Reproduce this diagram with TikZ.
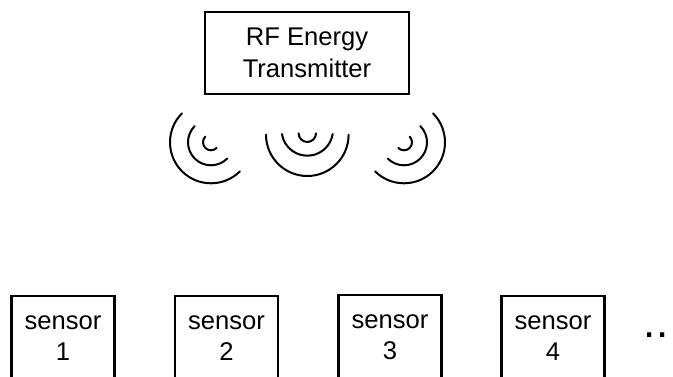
\documentclass[tikz,border=0pt]{standalone}
\usepackage{fontspec}
\setmainfont{Liberation Sans}
\tikzset{
  boxstyle/.style={draw=black, line width=2.5pt, align=center, inner sep=0pt, font=\fontsize{25.6pt}{31.5pt}\selectfont, text=black},
  sensorbox/.style={boxstyle, minimum width=103pt, minimum height=84pt},
  wave/.style={draw=black, line width=2pt, line cap=round}
}
\begin{document}
\begin{tikzpicture}[x=1pt,y=1pt]
\useasboundingbox (0,0) rectangle (673,377);
\clip (0,0) rectangle (673,377);
\fill[white] (0,0) rectangle (673,377);
\node[boxstyle, minimum width=204pt, minimum height=82pt] (tx) at (307,324) {RF Energy\\Transmitter};
\node[sensorbox] (s1) at (63,39) {sensor\\1};
\node[sensorbox] (s2) at (226.5,39) {sensor\\2};
\node[sensorbox] (s3) at (390,40) {sensor\\3};
\node[sensorbox] (s4) at (553,39) {sensor\\4};
\node[font=\fontsize{44pt}{44pt}\selectfont, text=black, inner sep=0pt] (more) at (656.5,42) {.\hspace{0.8pt}.};
% left waves
\foreach \r in {41,23,8}
  \draw[wave] (211,234.7) ++(135:\r) arc[start angle=135, end angle=315, radius=\r];
% middle waves
\draw[wave] (307.3,242.3) ++(180:41.3) arc[start angle=180, end angle=360, radius=41.3];
\draw[wave] (307.3,247) ++(189:25.7) arc[start angle=189, end angle=351, radius=25.7];
\draw[wave] (307.3,243.7) ++(180:8.7) arc[start angle=180, end angle=360, radius=8.7];
% right waves
\foreach \r in {41,23,8}
  \draw[wave] (404,234.7) ++(225:\r) arc[start angle=225, end angle=405, radius=\r];
\end{tikzpicture}
\end{document}
